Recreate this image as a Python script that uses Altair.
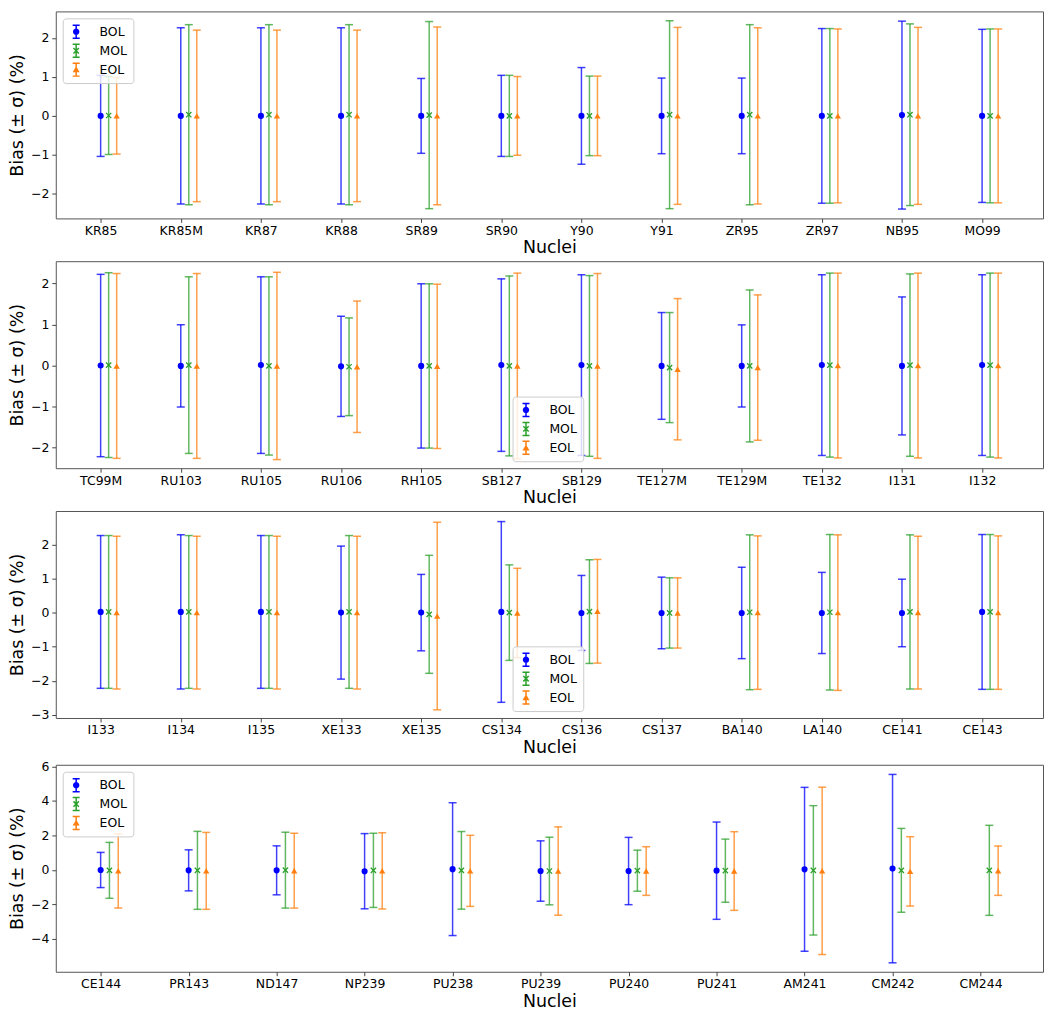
import altair as alt
import pandas as pd

SERIES = ["BOL", "MOL", "EOL"]
COLORS = ["#0000ff", "#2ca02c", "#ff7f0e"]

# ---------------- panel 1 ----------------
p1_nuclei = ["KR85", "KR85M", "KR87", "KR88", "SR89", "SR90", "Y90", "Y91", "ZR95", "ZR97", "NB95", "MO99"]
p1_bol_bias = [0.0, 0.0, 0.0, 0.0, 0.0, 0.0, 0.0, 0.0, 0.0, 0.0, 0.02, 0.0]
p1_bol_sig = [1.04, 2.26, 2.26, 2.26, 0.96, 1.04, 1.24, 0.97, 0.97, 2.24, 2.41, 2.22]
p1_mol_bias = [0.01, 0.03, 0.03, 0.03, 0.02, 0.0, 0.0, 0.03, 0.03, 0.0, 0.03, 0.0]
p1_mol_sig = [1.0, 2.31, 2.31, 2.31, 2.40, 1.04, 1.02, 2.41, 2.31, 2.24, 2.33, 2.23]
p1_eol_bias = [0.0, 0.0, 0.0, 0.0, 0.0, 0.0, 0.0, 0.0, 0.0, 0.0, 0.0, 0.0]
p1_eol_sig = [0.98, 2.20, 2.20, 2.20, 2.28, 1.01, 1.02, 2.27, 2.26, 2.23, 2.27, 2.23]

# ---------------- panel 2 ----------------
p2_nuclei = ["TC99M", "RU103", "RU105", "RU106", "RH105", "SB127", "SB129", "TE127M", "TE129M", "TE132", "I131", "I132"]
p2_bol_bias = [0.0, -0.01, 0.01, -0.02, -0.01, 0.01, 0.01, -0.01, -0.01, 0.01, -0.01, 0.01]
p2_bol_sig = [2.22, 1.0, 2.15, 1.22, 2.0, 2.10, 2.20, 1.30, 1.0, 2.20, 1.68, 2.20]
p2_mol_bias = [0.01, 0.01, -0.01, -0.03, -0.01, -0.01, -0.01, -0.05, -0.01, 0.01, 0.01, 0.01]
p2_mol_sig = [2.25, 2.15, 2.17, 1.19, 2.0, 2.19, 2.20, 1.34, 1.85, 2.24, 2.22, 2.24]
p2_eol_bias = [-0.01, -0.01, -0.01, -0.03, -0.02, -0.01, -0.01, -0.09, -0.05, 0.0, 0.0, 0.0]
p2_eol_sig = [2.25, 2.25, 2.28, 1.60, 2.0, 2.26, 2.25, 1.72, 1.77, 2.25, 2.25, 2.25]

# ---------------- panel 3 ----------------
p3_nuclei = ["I133", "I134", "I135", "XE133", "XE135", "CS134", "CS136", "CS137", "BA140", "LA140", "CE141", "CE143"]
p3_bol_bias = [0.02, 0.02, 0.02, 0.0, 0.0, 0.02, -0.01, -0.01, -0.01, -0.01, -0.01, 0.02]
p3_bol_sig = [2.24, 2.26, 2.24, 1.95, 1.12, 2.65, 1.10, 1.05, 1.34, 1.19, 0.99, 2.27]
p3_mol_bias = [0.02, 0.02, 0.02, 0.02, -0.05, 0.0, 0.03, -0.01, 0.01, 0.01, 0.02, 0.02]
p3_mol_sig = [2.24, 2.24, 2.24, 2.24, 1.73, 1.40, 1.52, 1.03, 2.27, 2.28, 2.26, 2.27]
p3_eol_bias = [0.0, 0.0, 0.0, 0.0, -0.10, -0.01, 0.04, -0.01, 0.0, 0.0, 0.0, 0.0]
p3_eol_sig = [2.24, 2.24, 2.24, 2.24, 2.75, 1.31, 1.52, 1.03, 2.25, 2.28, 2.24, 2.25]

# ---------------- panel 4 ----------------
p4_nuclei = ["CE144", "PR143", "ND147", "NP239", "PU238", "PU239", "PU240", "PU241", "AM241", "CM242", "CM244"]
p4_bol_bias = [0.0, -0.02, -0.02, -0.07, 0.05, -0.06, -0.06, -0.04, 0.04, 0.08, None]
p4_bol_sig = [1.02, 1.19, 1.42, 2.18, 3.85, 1.75, 1.95, 2.82, 4.75, 5.46, None]
p4_mol_bias = [-0.02, -0.02, -0.01, -0.02, -0.02, -0.06, -0.04, -0.04, -0.02, -0.02, -0.02]
p4_mol_sig = [1.62, 2.26, 2.20, 2.15, 2.25, 1.96, 1.19, 1.83, 3.75, 2.43, 2.61]
p4_eol_bias = [-0.05, -0.05, -0.04, -0.05, -0.05, -0.06, -0.06, -0.06, -0.05, -0.08, -0.04]
p4_eol_sig = [2.15, 2.23, 2.17, 2.21, 2.06, 2.56, 1.41, 2.28, 4.85, 2.01, 1.43]

W = 992
H = 208
FONT = "DejaVu Sans"

# legend glyphs (all filled shapes, same winding): error bar with caps + marker
BAR = ("M-0.1,-0.87L0.1,-0.87L0.1,0.87L-0.1,0.87Z"
       "M-0.47,-0.97L0.47,-0.97L0.47,-0.77L-0.47,-0.77Z"
       "M-0.47,0.77L0.47,0.77L0.47,0.97L-0.47,0.97Z")
P_BOL = BAR + "M-0.43,0A0.43,0.43,0,1,1,0.43,0A0.43,0.43,0,1,1,-0.43,0Z"
P_MOL = (BAR + "M-0.29,-0.43L0.43,0.29L0.29,0.43L-0.43,-0.29Z"
         "M-0.43,0.29L0.29,-0.43L0.43,-0.29L-0.29,0.43Z")
P_EOL = BAR + "M0,-0.45L0.47,0.35L-0.47,0.35Z"
X_MARK = "M-1,-1L1,1M-1,1L1,-1"


def build_df(nuclei, bias, sig):
    rows = []
    for i, name in enumerate(nuclei):
        for k, s in enumerate(SERIES):
            b = bias[s][i]
            if b is None:
                continue
            rows.append({"idx": i, "k": k, "nucleus": name, "series": s,
                         "bias": b, "sigma": sig[s][i]})
    return pd.DataFrame(rows)


def panel(nuclei, bias, sig, ydom, yticks, legpos):
    df = build_df(nuclei, bias, sig)
    n = len(nuclei)
    span = n - 1 + 0.2
    label_expr = "[" + ",".join("'" + s + "'" for s in nuclei) + "][datum.value]"
    xenc = alt.X("xpos:Q",
                 scale=alt.Scale(domain=[-0.05 * span, span * 1.05], nice=False, zero=False),
                 axis=alt.Axis(values=list(range(n)), labelExpr=label_expr, title="Nuclei",
                               grid=False, domain=False, labelAngle=0, tickSize=4,
                               labelPadding=2, titlePadding=2))
    yscale = alt.Scale(domain=ydom, nice=False, zero=False)
    yaxis = alt.Axis(values=yticks, title="Bias (± σ) (%)", grid=False, domain=False,
                     tickSize=4, labelPadding=3, titlePadding=4)
    # mark colours: same mapping, listed in reverse so these (legend-less) scales
    # are not merged with the legend's colour scale
    sc = alt.Scale(domain=SERIES[::-1], range=COLORS[::-1])
    strk = alt.Stroke("series:N", scale=sc, legend=None)
    fil = alt.Fill("series:N", scale=sc, legend=None)
    base = alt.Chart(df).transform_calculate(
        xpos="datum.idx + 0.1 * datum.k",
        lo="datum.bias - datum.sigma",
        hi="datum.bias + datum.sigma",
    )
    rules = base.mark_rule(strokeWidth=1.5, opacity=0.75).encode(
        x=xenc, y=alt.Y("lo:Q", scale=yscale, axis=yaxis), y2="hi:Q", stroke=strk,
    )
    cap_lo = base.mark_tick(orient="horizontal", thickness=1.5, opacity=0.75).encode(
        x=xenc, y=alt.Y("lo:Q", scale=yscale, axis=yaxis), size=alt.value(8), fill=fil,
    )
    cap_hi = base.mark_tick(orient="horizontal", thickness=1.5, opacity=0.75).encode(
        x=xenc, y=alt.Y("hi:Q", scale=yscale, axis=yaxis), size=alt.value(8), fill=fil,
    )
    pts_bol = base.transform_filter("datum.series === 'BOL'").mark_point(
        shape="circle", filled=True, size=38, opacity=1).encode(
        x=xenc, y=alt.Y("bias:Q", scale=yscale, axis=yaxis), fill=fil)
    pts_mol = base.transform_filter("datum.series === 'MOL'").mark_point(
        shape=X_MARK, filled=False, size=28, strokeWidth=1.3, opacity=1).encode(
        x=xenc, y=alt.Y("bias:Q", scale=yscale, axis=yaxis), stroke=strk)
    pts_eol = base.transform_filter("datum.series === 'EOL'").mark_point(
        shape="triangle-up", filled=True, size=40, opacity=1).encode(
        x=xenc, y=alt.Y("bias:Q", scale=yscale, axis=yaxis), fill=fil)

    def leg():
        return alt.Legend(
            title=None, orient="none", legendX=legpos[0], legendY=legpos[1],
            fillColor="rgba(255,255,255,0.8)", strokeColor="#cccccc", cornerRadius=3,
            padding=6, labelFont=FONT, labelFontSize=12.5, labelColor="#000000",
            symbolSize=225, rowPadding=4, labelOffset=16, symbolOpacity=1,
            symbolStrokeWidth=0,
        )

    legend_layer = base.transform_filter("datum.idx === 0").mark_point(
        filled=True, opacity=0, size=10).encode(
        x=xenc, y=alt.Y("bias:Q", scale=yscale, axis=yaxis),
        color=alt.Color("series:N", scale=alt.Scale(domain=SERIES, range=COLORS), legend=leg()),
        shape=alt.Shape("series:N", scale=alt.Scale(domain=SERIES, range=[P_BOL, P_MOL, P_EOL]),
                        legend=leg()),
    )
    return alt.layer(rules, cap_lo, cap_hi, pts_bol, pts_mol, pts_eol, legend_layer).properties(
        width=W, height=H)


def d(a, b, c):
    return {"BOL": a, "MOL": b, "EOL": c}


c1 = panel(p1_nuclei, d(p1_bol_bias, p1_mol_bias, p1_eol_bias), d(p1_bol_sig, p1_mol_sig, p1_eol_sig),
           [-2.63, 2.68], [-2, -1, 0, 1, 2], (7, 7))
c2 = panel(p2_nuclei, d(p2_bol_bias, p2_mol_bias, p2_eol_bias), d(p2_bol_sig, p2_mol_sig, p2_eol_sig),
           [-2.50, 2.54], [-2, -1, 0, 1, 2], (W / 2 - 37, H - 72))
c3 = panel(p3_nuclei, d(p3_bol_bias, p3_mol_bias, p3_eol_bias), d(p3_bol_sig, p3_mol_sig, p3_eol_sig),
           [-3.09, 2.98], [-3, -2, -1, 0, 1, 2], (W / 2 - 37, H - 72))
c4 = panel(p4_nuclei, d(p4_bol_bias, p4_mol_bias, p4_eol_bias), d(p4_bol_sig, p4_mol_sig, p4_eol_sig),
           [-5.9, 6.1], [-4, -2, 0, 2, 4, 6], (7, 7))

chart = alt.vconcat(c1, c2, c3, c4, spacing=3).resolve_scale(
    color="independent", shape="independent", stroke="independent", fill="independent",
    x="independent", y="independent",
).resolve_legend(
    color="independent", shape="independent",
).properties(padding=0).configure_view(
    stroke="#555555", strokeWidth=1,
).configure_axis(
    labelFont=FONT, labelFontSize=12.5, labelColor="#000000",
    titleFont=FONT, titleFontSize=17.5, titleFontWeight="normal", titleColor="#000000",
    tickColor="#444444", tickWidth=1,
)

chart.save("out.html", embed_options={"renderer": "svg", "actions": False})
